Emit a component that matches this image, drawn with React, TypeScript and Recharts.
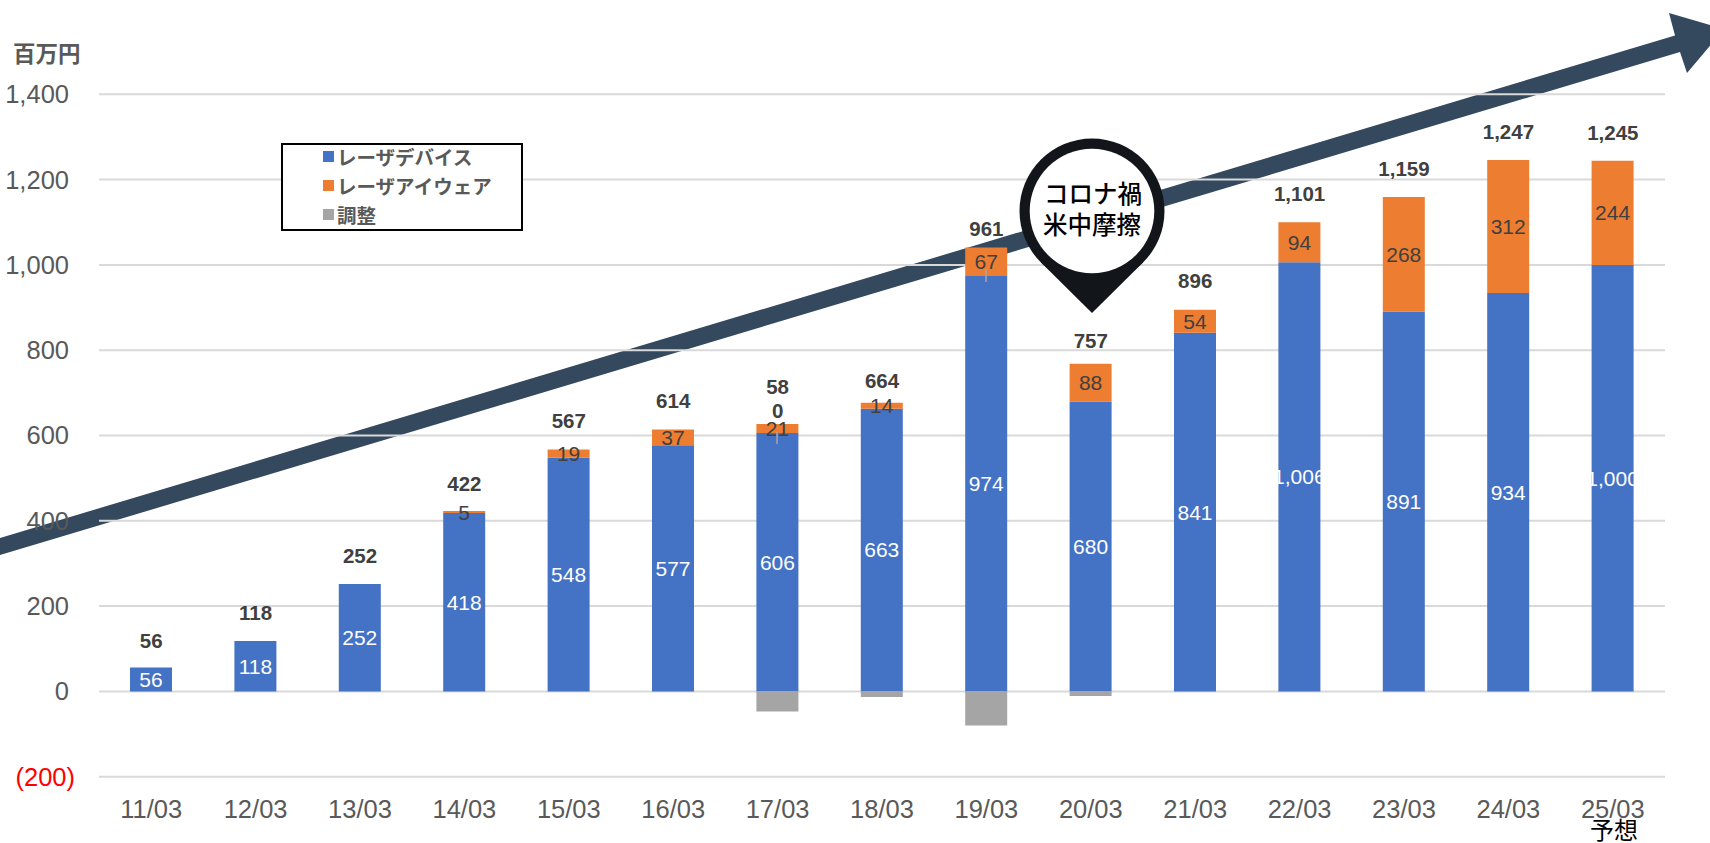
import React from 'react'
import { ComposedChart, Bar, Line, XAxis, YAxis, CartesianGrid, Legend, LabelList } from 'recharts'

const categories = ['11/03', '12/03', '13/03', '14/03', '15/03', '16/03', '17/03', '18/03', '19/03', '20/03', '21/03', '22/03', '23/03', '24/03', '25/03']
const device = [56, 118, 252, 418, 548, 577, 606, 663, 974, 680, 841, 1006, 891, 934, 1000]
const eyewear = [0, 0, 0, 5, 19, 37, 21, 14, 67, 88, 54, 94, 268, 312, 244]
const adjust = [0, 0, 0, 0, 0, 0, -47, -13, -80, -11, 0, 0, 0, 0, 0]
const totals = [56, 118, 252, 422, 567, 614, 580, 664, 961, 757, 896, 1101, 1159, 1247, 1245]
const yTicks = [-200, 0, 200, 400, 600, 800, 1000, 1200, 1400]

const data = categories.map((name, i) => ({
  name,
  device: device[i],
  eyewear: eyewear[i],
  adjust: adjust[i],
  total: totals[i],
  // top of the positive stack, the total labels hang off this
  stackTop: device[i] + eyewear[i]
}))

const LATIN = '"Liberation Sans", Arial, sans-serif'
const CJK = '"Noto Sans CJK JP", sans-serif'
const GREY_TEXT = '#595959'
const DARK_TEXT = '#404040'
const ARROW = '#34495E'
const PIN = '#12161B'

const fmt = (v: any) => Number(v).toLocaleString('en-US')

// the total labels were moved by hand in the original
const totalLift: Record<number, number> = { 56: 27, 422: 27, 664: 22, 757: 23, 961: 19 }

const YTick = ({ x, y, payload }: any) => {
  const v = payload.value
  const neg = v < 0
  return (
    <text
      x={neg ? x + 6 : x}
      y={y}
      dy="0.35em"
      textAnchor="end"
      fontFamily={LATIN}
      fontSize={25.5}
      fill={neg ? '#FF0000' : GREY_TEXT}
    >
      {neg ? `(${Math.abs(v)})` : fmt(v)}
    </text>
  )
}

const TotalLabel = ({ x, y, value }: any) => {
  const props = { x, textAnchor: 'middle', fontFamily: LATIN, fontSize: 20.5, fontWeight: 700, fill: DARK_TEXT, dy: '0.35em' } as any
  // 580 wraps in the original because the label box is narrow
  if (value === 580) {
    return (
      <g>
        <text {...props} y={y - 37}>58</text>
        <text {...props} y={y - 13}>0</text>
      </g>
    )
  }
  return <text {...props} y={y - (totalLift[value] ?? 28.5)}>{fmt(value)}</text>
}

const LegendBox = ({ payload }: any) => (
  <div style={{ boxSizing: 'border-box', width: 242, height: 88, border: '2px solid #000', background: '#fff', paddingLeft: 40 }}>
    <div style={{ marginTop: -3 }}>
      {(payload || [])
        .filter((p: any) => p.dataKey !== 'stackTop')
        .map((p: any) => (
          <div key={p.value} style={{ display: 'flex', alignItems: 'center', height: 29 }}>
            <span style={{ width: 11, height: 11, background: p.color, marginRight: 3, flex: 'none' }} />
            <span style={{ fontFamily: CJK, fontWeight: 700, fontSize: 19.5, color: GREY_TEXT, whiteSpace: 'nowrap', lineHeight: '29px' }}>{p.value}</span>
          </div>
        ))}
    </div>
  </div>
)

export default function App() {
  return (
    <div style={{ position: 'absolute', left: 0, top: 0, width: 1710, height: 843, background: '#fff', overflow: 'hidden' }}>
      {/* arrow sits behind the grid lines and bars */}
      <svg width={1710} height={843} style={{ position: 'absolute', left: 0, top: 0 }}>
        <polygon points="0,538 1675,35.5 1669,13 1724,29 1687,73 1680,52 0,555" fill={ARROW} />
      </svg>
      <div style={{ position: 'absolute', left: 0, top: 0 }}>
        <ComposedChart
          width={1710}
          height={843}
          data={data}
          stackOffset="sign"
          barSize={42}
          margin={{ top: 94.3, right: 45, bottom: 0, left: 0 }}
        >
          <CartesianGrid vertical={false} stroke="#D9D9D9" strokeWidth={2} />
          <XAxis
            dataKey="name"
            height={66.3}
            axisLine={false}
            tickLine={false}
            tickMargin={17}
            interval={0}
            tick={{ fontFamily: LATIN, fontSize: 25.5, fill: GREY_TEXT }}
          />
          <YAxis
            width={99}
            domain={[-200, 1400]}
            ticks={yTicks}
            interval={0}
            axisLine={false}
            tickLine={false}
            tickSize={0}
            tickMargin={30}
            tick={<YTick />}
          />
          <Legend
            layout="horizontal"
            verticalAlign="middle"
            itemSorter={null}
            content={<LegendBox />}
            wrapperStyle={{ left: 281, top: 143, width: 242, height: 88 }}
          />
          <Bar dataKey="device" name="レーザデバイス" stackId="a" fill="#4472C4" isAnimationActive={false}>
            <LabelList dataKey="device" position="center" fill="#FFFFFF" fontFamily={LATIN} fontSize={21} formatter={fmt} />
          </Bar>
          <Bar dataKey="eyewear" name="レーザアイウェア" stackId="a" fill="#ED7D31" isAnimationActive={false}>
            <LabelList
              dataKey="eyewear"
              position="center"
              fill={DARK_TEXT}
              fontFamily={LATIN}
              fontSize={21}
              formatter={(v: any) => (v === 0 ? '' : v)}
            />
          </Bar>
          <Bar dataKey="adjust" name="調整" stackId="a" fill="#A5A5A5" isAnimationActive={false} />
          <Line dataKey="stackTop" stroke="none" dot={false} activeDot={false} legendType="none" isAnimationActive={false}>
            <LabelList dataKey="total" content={<TotalLabel />} />
          </Line>
        </ComposedChart>
      </div>
      {/* annotations on top of the chart */}
      <svg width={1710} height={843} style={{ position: 'absolute', left: 0, top: 0, pointerEvents: 'none' }}>
        <text x={13} y={54} dy="0.35em" fontFamily={CJK} fontWeight={700} fontSize={22.5} fill={GREY_TEXT}>百万円</text>
        <line x1={777} y1={432} x2={777} y2={444} stroke="#A6A6A6" strokeWidth={1.5} />
        <line x1={986} y1={269} x2={986} y2={282} stroke="#A6A6A6" strokeWidth={1.5} />
        <circle cx={1092} cy={211} r={72.5} fill={PIN} />
        <polygon points="1092,313 1041,262.6 1143,262.6" fill={PIN} />
        <circle cx={1092} cy={211} r={62.3} fill="#fff" />
        <text x={1093} y={194} dy="0.35em" textAnchor="middle" fontFamily={CJK} fontWeight={500} fontSize={24.5} fill="#000">コロナ禍</text>
        <text x={1092} y={225} dy="0.35em" textAnchor="middle" fontFamily={CJK} fontWeight={500} fontSize={24.5} fill="#000">米中摩擦</text>
        <text x={1614} y={831} dy="0.35em" textAnchor="middle" fontFamily={CJK} fontSize={24} fill="#000">予想</text>
      </svg>
    </div>
  )
}
